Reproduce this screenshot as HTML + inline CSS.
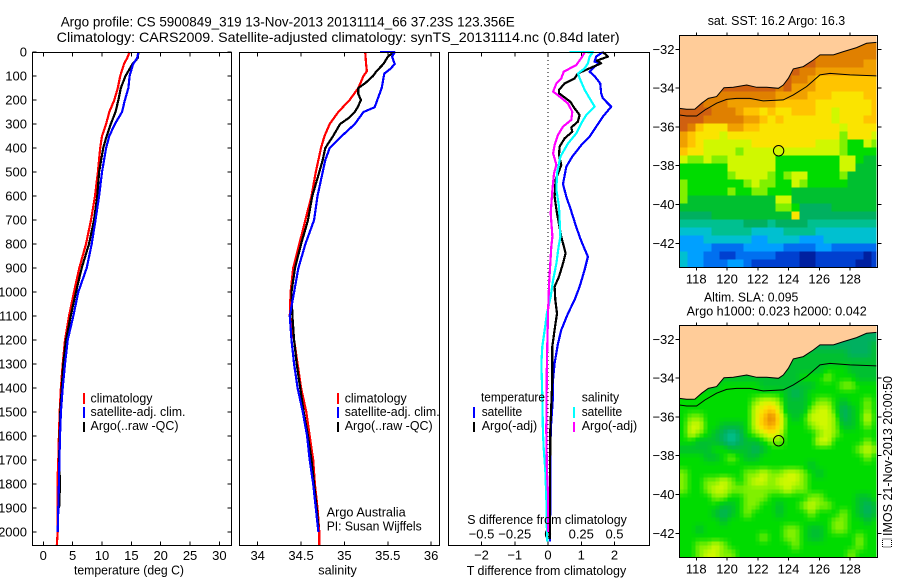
<!DOCTYPE html>
<html lang="en">
<head>
<meta charset="utf-8">
<title>Argo profile 5900849_319</title>
<style>
html,body{margin:0;padding:0;background:#fff;}
svg{display:block;font-family:"Liberation Sans",Arial,sans-serif;font-size:12.5px;fill:#000;}
text{fill:#000;stroke:none;}
</style>
</head>
<body>
<svg id="figure" xmlns="http://www.w3.org/2000/svg" width="900" height="580" viewBox="0 0 900 580">
<rect x="0" y="0" width="900" height="580" fill="#fff"/>
<text x="60.7" y="26.5" font-size="14" textLength="454" lengthAdjust="spacingAndGlyphs">Argo profile: CS 5900849_319 13-Nov-2013 20131114_66 37.23S 123.356E</text>
<text x="56.7" y="42" font-size="14" textLength="563" lengthAdjust="spacingAndGlyphs">Climatology: CARS2009. Satellite-adjusted climatology: synTS_20131114.nc (0.84d later)</text>

<g id="panel-t"></g>
<g id="panel-s"></g>
<g id="panel-d"></g>

<text x="74" y="574.5" textLength="110" lengthAdjust="spacingAndGlyphs">temperature (deg C)</text>
<text x="318.3" y="574.5" textLength="38.5" lengthAdjust="spacingAndGlyphs">salinity</text>
<text x="466.7" y="575" textLength="159.5" lengthAdjust="spacingAndGlyphs">T difference from climatology</text>
<text x="467.3" y="524" textLength="159.5" lengthAdjust="spacingAndGlyphs">S difference from climatology</text>

<g>
<rect x="83" y="393" width="2" height="11" fill="#f00"/>
<rect x="83" y="407" width="2" height="11" fill="#00f"/>
<rect x="83" y="422" width="2" height="10" fill="#000"/>
<text x="90.5" y="402.5" textLength="62" lengthAdjust="spacingAndGlyphs">climatology</text>
<text x="90.5" y="416" textLength="95" lengthAdjust="spacingAndGlyphs">satellite-adj. clim.</text>
<text x="90.5" y="430" textLength="88" lengthAdjust="spacingAndGlyphs">Argo(..raw -QC)</text>
</g>
<g>
<rect x="337" y="393" width="2" height="11" fill="#f00"/>
<rect x="337" y="407" width="2" height="11" fill="#00f"/>
<rect x="337" y="422" width="2" height="10" fill="#000"/>
<text x="344.7" y="402.5" textLength="62" lengthAdjust="spacingAndGlyphs">climatology</text>
<text x="344.7" y="416" textLength="95" lengthAdjust="spacingAndGlyphs">satellite-adj. clim.</text>
<text x="344.7" y="430" textLength="88" lengthAdjust="spacingAndGlyphs">Argo(..raw -QC)</text>
<text x="326.7" y="516.7" textLength="79" lengthAdjust="spacingAndGlyphs">Argo Australia</text>
<text x="326.7" y="530.7" textLength="95" lengthAdjust="spacingAndGlyphs">PI: Susan Wijffels</text>
</g>
<g>
<text x="481" y="401.7" textLength="64" lengthAdjust="spacingAndGlyphs">temperature</text>
<text x="581.7" y="401.7" textLength="37.5" lengthAdjust="spacingAndGlyphs">salinity</text>
<rect x="473" y="407" width="2" height="11" fill="#00f"/>
<rect x="473" y="422" width="2" height="10" fill="#000"/>
<rect x="573" y="407" width="2" height="11" fill="#0ff"/>
<rect x="573" y="422" width="2" height="10" fill="#f0f"/>
<text x="481.7" y="416" textLength="40.5" lengthAdjust="spacingAndGlyphs">satellite</text>
<text x="481.7" y="430" textLength="55.5" lengthAdjust="spacingAndGlyphs">Argo(-adj)</text>
<text x="581.7" y="416" textLength="40.5" lengthAdjust="spacingAndGlyphs">satellite</text>
<text x="581.7" y="430" textLength="55.5" lengthAdjust="spacingAndGlyphs">Argo(-adj)</text>
</g>

<text x="707.7" y="25" textLength="137.5" lengthAdjust="spacingAndGlyphs">sat. SST: 16.2 Argo: 16.3</text>
<g id="map-sst"></g>
<text x="704" y="301.7" textLength="94.3" lengthAdjust="spacingAndGlyphs">Altim. SLA: 0.095</text>
<text x="686.7" y="315.3" textLength="180" lengthAdjust="spacingAndGlyphs">Argo h1000: 0.023 h2000: 0.042</text>
<g id="map-sla"></g>

<text transform="translate(892,536) rotate(-90)" x="0" y="0" textLength="160" lengthAdjust="spacingAndGlyphs">IMOS 21-Nov-2013 20:00:50</text>
<rect x="882.5" y="539" width="9" height="8" fill="#fff" stroke="#000" stroke-width="1" stroke-dasharray="1 1" shape-rendering="crispEdges"/>
</svg>

<script>
/* ---------- depth profile data ---------- */
const tempDepths = [0,25,50,100,150,200,250,300,350,400,500,600,700,800,900,1000,1100,1200,1300,1400,1500,1600,1700,1800,1900,2000,2055];
const tempClim = [14.7,14.3,13.75,13.1,12.7,12.1,11.25,10.7,10,9.7,9.3,8.8,8.13,7.27,6.13,5.23,4.38,3.7,3.3,3.0,2.8,2.65,2.55,2.4,2.45,2.45,2.3];
const tempArgo = [16.2,16.1,15.2,14,13.2,12.8,12.3,11.5,10.8,10.2,9.5,9.2,8.64,7.78,6.54,5.57,4.67,3.87,3.41,3.13,2.9,2.8,2.7,2.85,2.7,null,null];
const tempSat = [16.2,16.0,15.3,14.7,14.5,13.9,13.4,12.2,11.25,10.7,10,9.5,8.9,8.24,7.39,5.96,5.11,4.15,3.7,3.3,3.0,2.85,2.75,2.65,2.55,2.45,null];

const salClimDepths = [0,50,80,100,150,200,250,300,350,400,500,600,700,800,900,1000,1100,1200,1300,1400,1500,1600,1700,1800,1900,2000,2055];
const salClim = [35.24,35.25,35.26,35.22,35.16,35.06,34.93,34.83,34.77,34.73,34.67,34.62,34.55,34.48,34.41,34.38,34.37,34.42,34.46,34.5,34.56,34.6,34.64,34.66,34.69,34.71,34.71];
const salArgoDepths = [0,20,50,80,100,130,150,175,200,225,250,275,300,350,400,450,500,600,700,800,900,1000,1100,1200,1300,1400,1500,1600,1700,1800,1900,1980];
const salArgo = [35.57,35.5,35.45,35.37,35.33,35.24,35.16,35.16,35.19,35.16,35.12,35.05,34.95,34.87,34.78,34.75,34.71,34.63,34.58,34.5,34.43,34.39,34.4,34.42,34.45,34.49,34.53,34.58,34.62,34.65,34.68,34.7];
const salSatDepths = [0,1,20,50,70,90,150,200,230,250,300,350,400,450,500,600,700,800,900,1000,1100,1200,1300,1400,1500,1600,1700,1800,1900,2000];
const salSat = [35.41,35.58,35.55,35.58,35.53,35.46,35.43,35.38,35.35,35.22,35.12,34.97,34.83,34.78,34.75,34.69,34.65,34.55,34.47,34.42,34.37,34.39,34.42,34.46,34.52,34.57,34.6,34.64,34.67,34.7];

const diffTSatDepths = [0,19,40,47,61,82,100,131,172,193,228,269,311,353,388,436,478,550,603,651,721,769,797,853,908,978,1033,1089,1158,1214,1297,1367,1436,1575,2040];
const diffTSat = [1.65,1.45,1.40,1.55,1.40,1.25,1.40,1.57,1.60,1.65,1.90,1.65,1.45,1.25,1.00,.73,.55,.45,.55,.67,.83,.95,1.03,1.20,1.10,.95,.80,.60,.40,.30,.20,.15,.15,.08,.06];
const diffTArgoDepths = [0,19,36,47,68,89,110,131,158,172,200,207,235,262,290,314,332,360,394,429,471,533,603,672,769,839,881,936,978,1033,1089,1158,1228,1367,1575,2030];
const diffTArgo = [1.65,1.80,1.47,1.60,1.25,.90,.80,.50,.33,.33,.60,.67,.80,.95,.90,.70,.73,.50,.35,.33,.40,.23,.20,.27,.40,.53,.45,.33,.20,.22,.27,.20,.13,.13,.07,.05];
const diffSSatDepths = [0,1,19,47,68,89,110,158,193,228,262,297,339,381,436,506,575,644,769,811,881,950,1019,1089,1158,1228,1297,1436,1575,1646,1743,1854,1993,2040];
const diffSSat = [.163,.338,.313,.30,.276,.226,.238,.276,.313,.351,.288,.25,.213,.15,.093,.068,.063,.083,.093,.08,.063,.038,.02,-.008,-.025,-.043,-.05,-.043,-.038,-.033,-.02,-.013,-.008,-.005];
const diffSArgoDepths = [0,19,54,82,110,131,165,186,214,249,283,311,346,388,422,471,506,575,672,769,811,964,1089,1297,1575,1743,1840,2000];
const diffSArgo = [.276,.258,.213,.118,.10,.063,.038,.088,.15,.183,.175,.113,.075,.05,.038,.063,.045,.033,.02,.033,.025,.008,0,-.008,-.013,-.008,0,0];

/* ---------- tick labels ---------- */
const depthTicks = [0,100,200,300,400,500,600,700,800,900,1000,1100,1200,1300,1400,1500,1600,1700,1800,1900,2000];
const tempTicks = [0,5,10,15,20,25,30];
const salTicks = [34,34.5,35,35.5,36];
const diffTTicks = [-2,-1,0,1,2];
const diffSTicks = [-0.5,-0.25,0,0.25,0.5];
const lonTicks = [118,120,122,124,126,128];
const latTicks = [-32,-34,-36,-38,-40,-42];

/* ---------- map data: colour band per grid cell, north to south ---------- */
const sstGrid = [
[14,14,14,14,14,14,14,14,14,14,14,14,14,14,14,14,14,14,14,14,14,14,14,14,14],
[14,14,14,14,14,14,14,14,14,14,14,14,14,14,14,14,14,14,14,14,14,14,14,14,14],
[14,14,14,14,14,14,14,14,14,14,14,14,14,14,14,14,14,14,14,14,14,14,14,14,14],
[14,14,14,14,14,14,14,14,14,14,14,14,14,14,15,15,15,14,14,14,14,14,14,13,13],
[14,14,14,14,14,14,14,14,14,14,14,14,14,14,15,14,14,13,13,13,13,13,13,13,13],
[14,14,14,14,14,14,14,14,14,14,14,14,14,15,14,14,13,12,12,12,12,12,12,12,12],
[15,15,15,15,15,15,15,15,15,15,15,15,14,15,13,13,13,12,12,12,12,12,12,12,12],
[15,15,15,14,14,14,14,14,14,14,14,14,13,13,13,13,12,12,12,11,11,11,11,12,12],
[15,15,15,14,14,14,13,13,13,13,13,13,12,12,12,12,12,11,11,11,11,11,11,11,12],
[15,15,15,15,14,14,14,13,12,12,11,12,11,11,12,12,12,11,11,10,11,11,11,11,12],
[15,15,15,14,14,14,14,14,13,13,12,11,12,11,11,11,11,11,11,10,11,11,11,12,12],
[15,14,12,11,11,11,13,13,12,12,11,11,11,11,11,11,11,11,11,11,10,11,11,11,11],
[13,12,11,11,11,10,11,11,11,11,11,11,11,11,11,11,11,11,11,11,9,11,11,11,10],
[13,12,11,10,10,10,10,10,10,11,11,11,11,11,11,11,11,10,10,10,9,8,8,10,9],
[12,11,11,10,10,10,10,9,10,10,10,10,10,10,10,10,10,10,10,10,9,8,8,8,8],
[10,9,9,10,9,9,10,10,10,10,10,10,8,8,8,8,8,8,8,8,10,10,8,7,7],
[8,8,8,8,8,8,10,10,10,10,10,10,8,8,8,8,8,8,8,8,10,10,7,7,7],
[8,8,8,8,8,8,9,10,10,10,10,9,8,9,10,10,8,8,8,8,9,7,7,7,7],
[9,8,8,8,8,8,8,8,9,10,9,9,8,8,10,9,8,8,8,8,8,7,7,7,7],
[9,8,8,8,8,8,9,8,8,9,9,8,8,8,7,7,7,7,7,7,7,7,7,7,7],
[9,7,7,7,7,7,7,7,7,7,7,7,10,10,7,7,7,7,7,7,7,7,7,7,7],
[7,7,7,7,7,7,7,7,7,7,7,7,9,9,8,6,6,6,6,7,7,7,7,7,7],
[6,6,6,6,7,7,7,7,7,7,7,7,7,7,11,6,6,6,6,6,6,6,6,6,6],
[5,5,5,5,5,5,5,5,6,6,6,5,6,6,6,6,5,5,5,5,5,5,5,5,5],
[4,4,4,4,5,5,5,5,5,4,4,4,4,5,5,5,5,4,4,4,4,4,4,4,4],
[3,3,3,4,4,4,4,4,4,3,3,4,4,4,4,3,3,3,4,4,4,4,4,4,4],
[3,3,3,3,2,2,2,2,3,3,3,3,3,2,2,2,2,3,3,2,2,2,2,2,2],
[4,3,3,2,2,1,1,2,2,2,2,2,1,1,1,0,0,1,1,1,1,1,1,0,1],
[4,3,3,2,2,2,3,3,2,1,1,1,1,1,1,0,0,1,1,1,1,1,0,0,1]
];
const slaGrid = [
[6,6,6,6,6,6,6,6,6,6,6,6,6,6,6,6,6,6,6,6,6,6,6,6,6],
[6,6,6,6,6,6,6,6,6,6,6,6,6,6,6,6,6,6,6,6,6,6,6,6,6],
[6,6,6,6,6,6,6,6,6,6,6,6,6,6,6,6,6,6,6,6,6,6,6,6,7],
[7,7,7,7,7,7,7,7,7,7,7,7,7,7,7,7,7,7,7,7,7,6,6,6,7],
[7,7,7,7,7,7,7,7,7,7,7,7,7,7,7,7,7,7,7,7,7,7,7,7,7],
[7,7,7,7,7,7,7,7,7,7,7,7,7,7,7,7,7,7,8,8,8,7,7,7,7],
[7,7,7,7,7,7,7,7,7,7,7,7,7,7,7,8,8,8,9,8,8,8,7,7,7],
[7,7,7,7,7,8,8,8,8,8,7,7,7,7,7,7,7,8,8,8,9,9,8,8,8],
[8,8,8,8,8,8,8,8,8,8,8,8,8,7,6,7,8,8,8,8,8,8,8,8,8],
[8,8,8,8,8,8,8,8,8,9,10,10,9,7,7,7,8,9,9,8,7,8,8,9,8],
[8,8,8,8,8,8,8,8,8,10,11,12,10,7,7,7,9,10,10,8,6,7,8,9,8],
[8,9,9,8,8,8,8,8,8,10,12,14,11,8,7,8,10,10,10,9,6,7,8,10,8],
[8,10,10,8,8,7,7,7,8,10,12,13,11,8,8,8,9,10,10,9,7,7,8,9,8],
[8,10,9,8,7,6,5,6,8,9,10,11,10,8,8,8,8,9,10,9,8,8,8,8,8],
[8,8,7,7,7,6,5,6,7,7,8,9,9,8,8,8,8,10,10,8,8,8,8,9,8],
[7,7,7,7,8,8,7,7,7,6,7,8,8,8,8,8,8,8,8,8,8,8,9,10,9],
[8,8,8,7,7,8,9,8,7,7,8,8,8,8,8,8,8,8,8,8,8,8,8,9,8],
[8,8,8,8,8,8,8,8,8,8,8,8,8,8,8,8,7,8,8,8,8,8,8,8,8],
[9,8,8,8,8,8,8,8,9,9,10,9,9,10,10,9,8,7,8,8,8,8,8,8,8],
[9,8,8,9,9,10,9,8,9,10,10,9,10,10,10,9,8,8,8,8,8,8,8,8,8],
[9,8,8,9,10,10,9,9,9,9,9,9,9,10,9,9,8,8,8,8,8,8,8,8,8],
[8,8,8,8,9,9,8,8,9,9,9,8,8,8,8,8,9,9,8,8,8,8,7,7,8],
[8,8,8,8,8,7,7,8,9,9,8,8,7,8,8,9,10,9,9,8,8,8,7,6,7],
[8,8,8,8,7,6,7,8,9,8,8,8,7,8,8,8,9,8,8,8,9,8,7,6,7],
[8,8,8,8,8,7,8,8,8,8,8,8,8,8,8,8,8,8,8,9,9,8,8,7,8],
[8,8,7,8,8,8,8,8,8,8,8,8,8,9,9,8,7,7,8,9,9,8,8,8,8],
[8,8,8,8,8,8,8,8,8,8,9,8,8,9,9,8,7,7,8,8,8,8,9,8,8],
[8,8,9,9,10,9,8,8,8,8,8,8,8,8,9,8,8,8,8,8,8,8,9,8,8],
[8,8,9,10,10,9,9,8,8,8,8,8,8,8,8,8,8,8,8,8,8,9,8,8,8]
];
const coastLon = [116.89,117.37,117.91,118.35,118.78,119.32,119.80,120.41,121.28,121.93,122.58,123.34,123.66,123.99,124.31,124.96,125.61,126.05,126.92,127.57,128.43,129.08,129.74,129.8];
const coastLat = [-35.04,-35.09,-35.08,-34.78,-34.53,-34.44,-33.98,-33.96,-33.84,-33.96,-33.96,-34.01,-33.84,-33.49,-33.01,-32.89,-32.55,-32.29,-32.29,-32.12,-31.91,-31.69,-31.64,-31.64];
const shelfLon = [116.89,117.37,118.02,118.56,119.32,119.97,120.62,121.49,122.36,123.66,124.31,125.18,126.05,126.70,128,129.74];
const shelfLat = [-35.38,-35.44,-35.44,-35.13,-34.78,-34.58,-34.53,-34.53,-34.66,-34.61,-34.35,-33.92,-33.32,-33.24,-33.32,-33.37];
const floatLon = 123.356;
const floatLat = -37.23;

/* ---------- axis functions ---------- */
const depthY = d => 52 + 0.24 * d;
const tempX = t => 43.3 + 5.87 * t;
const salX = s => 257.7 + 86.7 * (s - 34);
const diffTX = t => 548 + 33.25 * t;
const diffSX = s => 548 + 133 * s;
const lonX = lon => 696.3 + 15.37 * (lon - 118);
const latSpan = 19.4;

const NS = 'http://www.w3.org/2000/svg';
function mk(parent, tag, attrs, content) {
  const el = document.createElementNS(NS, tag);
  for (const k in attrs) el.setAttribute(k, attrs[k]);
  if (content !== undefined) el.textContent = content;
  parent.appendChild(el);
  return el;
}
function drawFrame(parent, x0, x1, y0, y1) {
  const el = mk(parent, 'rect', {x:x0, y:y0, width:x1-x0, height:y1-y0, fill:'none', stroke:'#000', 'stroke-width':1, 'shape-rendering':'crispEdges'});
  
  
}
function drawTick(parent, x1, y1, x2, y2) {
  const el = mk(parent, 'line', {x1:x1, y1:y1, x2:x2, y2:y2, stroke:'#000', 'stroke-width':1, 'shape-rendering':'crispEdges'});
  
  
}
function drawLabel(parent, x, y, anchor, str) {
  const el = mk(parent, 'text', {x:x, y:y, 'text-anchor':anchor, 'font-size':13}, str);
  
  
}
function drawProfile(parent, xFn, depths, values, color, name, width) {
  const pts = [];
  depths.forEach((d, i) => { if (values[i] !== null) pts.push(xFn(values[i]).toFixed(1) + ',' + depthY(d).toFixed(1)); });
  const el = mk(parent, 'polyline', {points:pts.join(' '), fill:'none', stroke:color, 'stroke-width':width || 2.2, 'stroke-linejoin':'round', 'shape-rendering':'crispEdges'});
  
  
}
const fmtMinus = v => String(v).replace('-', '\u2212');

/* temperature panel */
const pT = document.getElementById('panel-t');
depthTicks.forEach(d => {
  drawTick(pT, 32.5, depthY(d), 36.5, depthY(d));
  drawTick(pT, 231.5, depthY(d), 227.5, depthY(d));
  drawLabel(pT, 27, depthY(d) + 4.5, 'end', String(d));
});
tempTicks.forEach(t => {
  drawTick(pT, tempX(t), 52.5, tempX(t), 56.5);
  drawTick(pT, tempX(t), 545.5, tempX(t), 541.5);
  drawLabel(pT, tempX(t), 560, 'middle', String(t));
});
drawProfile(pT, tempX, tempDepths, tempClim, '#f00', 'temperature-climatology-line');
drawProfile(pT, tempX, tempDepths, tempArgo, '#000', 'temperature-argo-line');
drawProfile(pT, tempX, tempDepths, tempSat, '#00f', 'temperature-satellite-line');
drawFrame(pT, 32.5, 231.5, 52.5, 545.5);

/* salinity panel */
const pS = document.getElementById('panel-s');
salTicks.forEach(s => {
  drawTick(pS, salX(s), 52.5, salX(s), 56.5);
  drawTick(pS, salX(s), 545.5, salX(s), 541.5);
  drawLabel(pS, salX(s), 560, 'middle', String(s));
});
drawProfile(pS, salX, salClimDepths, salClim, '#f00', 'salinity-climatology-line');
drawProfile(pS, salX, salArgoDepths, salArgo, '#000', 'salinity-argo-line');
drawProfile(pS, salX, salSatDepths, salSat, '#00f', 'salinity-satellite-line');
drawFrame(pS, 239.5, 439.5, 52.5, 545.5);

/* difference panel */
const pD = document.getElementById('panel-d');
const zeroLine = mk(pD, 'line', {x1:diffTX(0), y1:52, x2:diffTX(0), y2:545, stroke:'#000', 'stroke-width':1, 'stroke-dasharray':'1 3', 'shape-rendering':'crispEdges'});


diffTTicks.forEach(t => {
  drawTick(pD, diffTX(t), 52.5, diffTX(t), 56.5);
  drawTick(pD, diffTX(t), 545.5, diffTX(t), 541.5);
  drawLabel(pD, diffTX(t), 559.3, 'middle', fmtMinus(t));
});
diffSTicks.forEach(s => {
  drawLabel(pD, diffSX(s), 538.7, 'middle', fmtMinus(s));
});
drawProfile(pD, diffTX, diffTSatDepths, diffTSat, '#00f', 'difference-t-satellite-line');
drawProfile(pD, diffTX, diffTArgoDepths, diffTArgo, '#000', 'difference-t-argo-line');
drawProfile(pD, diffSX, diffSSatDepths, diffSSat, '#0ff', 'difference-s-satellite-line');
drawProfile(pD, diffSX, diffSArgoDepths, diffSArgo, '#f0f', 'difference-s-argo-line');
drawFrame(pD, 448.5, 649.5, 52.5, 545.5);

/* maps */
const bandColours = [[0,32,160],[0,64,208],[0,112,240],[0,160,255],[0,192,208],[0,192,144],[0,176,96],[0,192,48],[0,220,0],[128,240,0],[208,248,0],[250,228,0],[255,196,0],[240,160,0],[224,128,0],[208,96,16]];
function bandColour(level) {
  const lo = Math.max(0, Math.min(15, Math.floor(level)));
  const hi = Math.min(15, lo + 1);
  const f = Math.max(0, Math.min(1, level - lo));
  const c = [0,1,2].map(i => Math.round(bandColours[lo][i] + f * (bandColours[hi][i] - bandColours[lo][i])));
  return 'rgb(' + c.join(',') + ')';
}
function drawMap(parent, grid, id, top, lat32Y, smooth, prefix) {
  const left = 679.5, right = 877.5, height = 232, bottom = top + height;
  const latY = lat => lat32Y + latSpan * (-32 - lat);
  const defs = mk(parent, 'defs', {});
  const clip = mk(defs, 'clipPath', {id:id});
  mk(clip, 'rect', {x:left, y:top, width:right - left - 1, height:height});
  const cells = mk(parent, 'g', {'clip-path':'url(#' + id + ')', 'shape-rendering':'crispEdges'});
  
  
  const rows = grid.length, cols = grid[0].length, cw = 8, ch = 8;
  if (!smooth) {
    grid.forEach((row, r) => row.forEach((v, c) => {
      const cell = mk(cells, 'rect', {x:left + c * cw, y:top + r * ch, width:cw + 0.5, height:ch + 0.5, fill:bandColour(v)});
      
      
    }));
  } else {
    const sub = 2;
    for (let r = 0; r < rows * sub; r++) for (let c = 0; c < cols * sub; c++) {
      const fr = Math.max(0, Math.min(rows - 1.001, (r + 0.5) / sub - 0.5));
      const fc = Math.max(0, Math.min(cols - 1.001, (c + 0.5) / sub - 0.5));
      const r0 = Math.floor(fr), c0 = Math.floor(fc), a = fr - r0, b = fc - c0;
      const v = grid[r0][c0]*(1-a)*(1-b) + grid[r0][c0+1]*(1-a)*b + grid[r0+1][c0]*a*(1-b) + grid[r0+1][c0+1]*a*b;
      const cell = mk(cells, 'rect', {x:left + c * cw / sub, y:top + r * ch / sub, width:cw / sub + 0.5, height:ch / sub + 0.5, fill:bandColour(v)});
      
      
    }
  }
  const coastPts = coastLon.map((lon, i) => lonX(lon).toFixed(1) + ',' + latY(coastLat[i]).toFixed(1));
  const land = mk(parent, 'polygon', {points:left + ',' + top + ' ' + coastPts.map((p, i) => i === 0 ? left + ',' + latY(coastLat[0]).toFixed(1) + ' ' + p : p).join(' ') + ' ' + (right) + ',' + top, fill:'#ffcc99', 'clip-path':'url(#' + id + ')'});
  
  
  const coast = mk(parent, 'polyline', {points:coastPts.join(' '), fill:'none', stroke:'#000', 'stroke-width':1, 'clip-path':'url(#' + id + ')'});
  
  
  const shelf = mk(parent, 'polyline', {points:shelfLon.map((lon, i) => lonX(lon).toFixed(1) + ',' + latY(shelfLat[i]).toFixed(1)).join(' '), fill:'none', stroke:'#000', 'stroke-width':1, 'clip-path':'url(#' + id + ')'});
  
  
  const marker = mk(parent, 'circle', {cx:lonX(floatLon), cy:latY(floatLat), r:5.2, fill:'none', stroke:'#000', 'stroke-width':1});
  
  
  lonTicks.forEach(lon => {
    drawTick(parent, lonX(lon), top, lonX(lon), top - 3);
    drawTick(parent, lonX(lon), bottom, lonX(lon), bottom + 3);
    drawLabel(parent, lonX(lon), bottom + 16, 'middle', String(lon));
  });
  latTicks.forEach(lat => {
    drawTick(parent, left, latY(lat), left - 4, latY(lat));
    drawTick(parent, right, latY(lat), right + 4, latY(lat));
    drawLabel(parent, 674.5, latY(lat) + 4.5, 'end', fmtMinus(lat));
  });
  drawFrame(parent, left, right, top, bottom);
}
drawMap(document.getElementById('map-sst'), sstGrid, 'clip-sst', 35.5, 49.3, false, 'sst');
drawMap(document.getElementById('map-sla'), slaGrid, 'clip-sla', 325.5, 339.3, true, 'sla');
</script>
</body>
</html>
